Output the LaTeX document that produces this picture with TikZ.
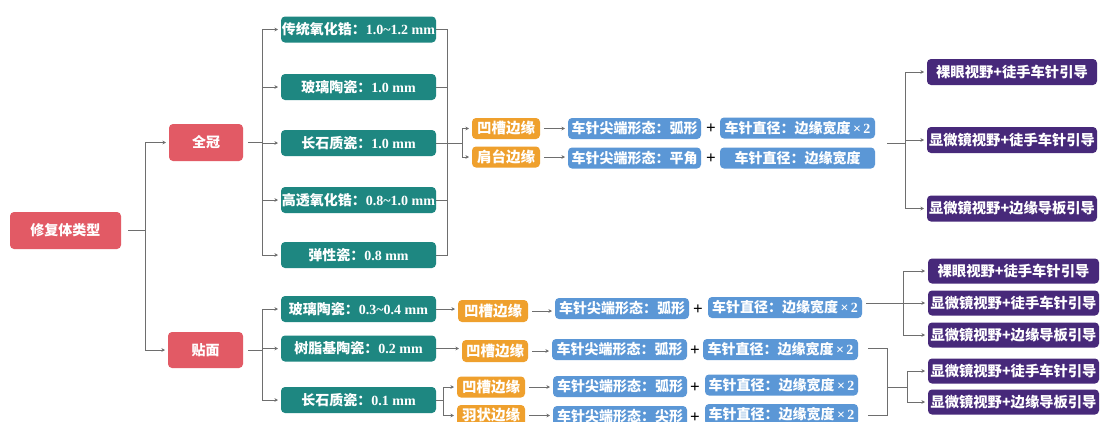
\documentclass[tikz,border=0pt]{standalone}
\usepackage{fontspec}
\setmainfont{Liberation Serif}
\newfontfamily\cjk{Noto Sans CJK SC}
\usetikzlibrary{arrows.meta}
\definecolor{cred}{HTML}{E25A65}
\definecolor{cteal}{HTML}{1E8781}
\definecolor{corange}{HTML}{EFA02D}
\definecolor{cblue}{HTML}{5B97D6}
\definecolor{cpurple}{HTML}{47297A}
\definecolor{cline}{HTML}{6E6E6E}
\newcommand{\C}[1]{{\cjk #1}}
\begin{document}
\begin{tikzpicture}[x=1pt,y=-1pt,
  box/.style={rounded corners=4pt, text=white, inner sep=0pt, outer sep=0pt, font=\bfseries\fontsize{14}{16}\selectfont},
  redbox/.style={box, fill=cred, minimum height=37pt},
  tealbox/.style={box, fill=cteal, minimum width=155pt, minimum height=26pt},
  orbox/.style={box, fill=corange, minimum width=68pt, minimum height=21pt, font=\bfseries\fontsize{14.5}{16}\selectfont},
  bluebox/.style={box, fill=cblue, minimum width=134pt, minimum height=21pt},
  bluewide/.style={box, fill=cblue, minimum width=155pt, minimum height=21pt},
  purbox/.style={box, fill=cpurple, minimum width=171pt, minimum height=26pt, font=\bfseries\fontsize{14.3}{16}\selectfont},
  plus/.style={inner sep=0pt, font=\bfseries\fontsize{17}{17}\selectfont},
  conn/.style={draw=cline, line width=0.8pt},
  arr/.style={conn, -{Stealth[length=3.5pt,width=3.5pt]}, shorten >=3pt}]
\useasboundingbox[fill=white] (0,0) rectangle (1101,421);
\clip (0,0) rectangle (1101,421);

% level 0/1
\node[redbox, minimum width=111pt] (root) at (65.5,230.5) {\C{修复体类型}};
\node[redbox, minimum width=74pt] (qg) at (206,142.5) {\C{全冠}};
\node[redbox, minimum width=75pt, minimum height=36pt] (tm) at (205.5,350) {\C{贴面}};

% full crown materials
\node[tealbox] (t1) at (358.5,29.5) {\C{传统氧化锆：}1.0\textasciitilde1.2 mm};
\node[tealbox] (t2) at (358.5,87) {\C{玻璃陶瓷：}1.0 mm};
\node[tealbox] (t3) at (358.5,143) {\C{长石质瓷：}1.0 mm};
\node[tealbox] (t4) at (358.5,200) {\C{高透氧化锆：}0.8\textasciitilde1.0 mm};
\node[tealbox] (t5) at (358.5,255) {\C{弹性瓷：}0.8 mm};

% veneer materials
\node[tealbox] (v1) at (358.5,309) {\C{玻璃陶瓷：}0.3\textasciitilde0.4 mm};
\node[tealbox] (v2) at (358.5,348.5) {\C{树脂基陶瓷：}0.2 mm};
\node[tealbox] (v3) at (358.5,400) {\C{长石质瓷：}0.1 mm};

% full crown margins
\node[orbox] (o1) at (506,128.5) {\C{凹槽边缘}};
\node[orbox] (o2) at (506,157) {\C{肩台边缘}};
\node[bluebox, minimum width=133pt] (b11) at (634.5,128.5) {\C{车针尖端形态：弧形}};
\node[bluebox, minimum width=133pt] (b21) at (634.5,158) {\C{车针尖端形态：平角}};
\node[plus] (p1) at (711,129) {+};
\node[plus] (p2) at (711,158.5) {+};
\node[bluewide] (b12) at (797.5,128) {\C{车针直径：边缘宽度}\,×\,2};
\node[bluewide] (b22) at (797.5,158) {\C{车针直径：边缘宽度}};

% purple top
\node[purbox, minimum width=170pt] (u1) at (1012,72) {\C{裸眼视野+徒手车针引导}};
\node[purbox, minimum width=170pt] (u2) at (1012,140) {\C{显微镜视野+徒手车针引导}};
\node[purbox, minimum width=170pt] (u3) at (1012,208.5) {\C{显微镜视野+边缘导板引导}};

% veneer rows
\node[orbox, minimum width=70pt, minimum height=22pt] (r1o) at (493,311) {\C{凹槽边缘}};
\node[bluebox] (r1b) at (622,308.5) {\C{车针尖端形态：弧形}};
\node[plus] (r1p) at (698,310) {+};
\node[bluewide, minimum width=154pt] (r1c) at (785,307.5) {\C{车针直径：边缘宽度}\,×\,2};

\node[orbox, minimum width=66pt, minimum height=22pt] (r2o) at (495,351) {\C{凹槽边缘}};
\node[bluebox, minimum width=135pt] (r2b) at (619.5,349.5) {\C{车针尖端形态：弧形}};
\node[plus] (r2p) at (695,351) {+};
\node[bluewide] (r2c) at (780.5,349.5) {\C{车针直径：边缘宽度}\,×\,2};

\node[orbox] (r3o) at (491,387) {\C{凹槽边缘}};
\node[bluebox] (r3b) at (620,386.5) {\C{车针尖端形态：弧形}};
\node[plus] (r3p) at (695,388) {+};
\node[bluewide, minimum width=153pt] (r3c) at (781.5,385) {\C{车针直径：边缘宽度}\,×\,2};

\node[orbox] (r4o) at (491,415.5) {\C{羽状边缘}};
\node[bluebox] (r4b) at (620,416.5) {\C{车针尖端形态：尖形}};
\node[plus] (r4p) at (695,418) {+};
\node[bluewide, minimum width=153pt] (r4c) at (781.5,414.5) {\C{车针直径：边缘宽度}\,×\,2};

% purple bottom
\node[purbox, minimum height=25pt] (w1) at (1013.5,271) {\C{裸眼视野+徒手车针引导}};
\node[purbox, minimum height=25pt] (w2) at (1013.5,303) {\C{显微镜视野+徒手车针引导}};
\node[purbox, minimum height=25pt] (w3) at (1013.5,335) {\C{显微镜视野+边缘导板引导}};
\node[purbox, minimum height=25pt] (w4) at (1013.5,371) {\C{显微镜视野+徒手车针引导}};
\node[purbox, minimum height=25pt] (w5) at (1013.5,402) {\C{显微镜视野+边缘导板引导}};

% ---- connectors ----
\draw[arr, shorten <=7pt] (root.east) -- ++(24,0) |- (qg.west);
\draw[arr, shorten <=7pt] (root.east) -- ++(24,0) |- (tm.west);

\foreach \t in {t1,t2,t3,t4,t5}
  \draw[arr, shorten <=5pt] (qg.east) -- ++(19,0) |- (\t.west);
\foreach \t in {v1,v2,v3}
  \draw[arr, shorten <=5pt] (tm.east) -- ++(19,0) |- (\t.west);

% right merge of full crown materials
\draw[conn] (t1.east) -- ++(11,0) |- (t5.east);
\draw[conn] (t2.east) -- ++(11,0);
\draw[conn] (t4.east) -- ++(11,0);
\draw[conn] (t3.east) -- ++(26,0) coordinate (j1);
\draw[arr] (j1) |- (o1.west);
\draw[arr] (j1) |- (o2.west);
\draw[arr, shorten <=4pt] (o1.east) -- (b11.west);
\draw[arr, shorten <=4pt] (o2.east) -- (o2.east -| b21.west);

\coordinate (m1) at (887,143);
\draw[conn] (m1) -- ++(18,0) coordinate (m1b);
\draw[arr] (m1b) |- (u1.west);
\draw[arr] (m1b) -- (m1b |- u2.west) -- (u2.west);
\draw[arr] (m1b) |- (u3.west);

% veneer connections
\draw[arr] (v1.east) -- (v1.east -| r1o.west);
\draw[arr] (v2.east) -- (v2.east -| r2o.west);
\draw[conn] (v3.east) -- ++(7,0) coordinate (j2);
\draw[arr] (j2) |- (r3o.west);
\draw[arr] (j2) |- (r4o.west);
\draw[arr, shorten <=4pt] (r1o.east) -- (r1o.east -| r1b.west);
\draw[arr, shorten <=4pt] (r2o.east) -- (r2o.east -| r2b.west);
\draw[arr, shorten <=4pt] (r3o.east) -- (r3o.east -| r3b.west);
\draw[arr, shorten <=4pt] (r4o.east) -- (r4o.east -| r4b.west);

\draw[conn, shorten <=4pt] (r1c.east |- w2.west) -- (903,303) coordinate (k1);
\draw[arr] (k1) |- (w1.west);
\draw[arr] (k1) -- (w2.west);
\draw[arr] (k1) |- (w3.west);

\coordinate (k2a) at (868,348);
\coordinate (k2b) at (868,415);
\draw[conn] (k2a) -- (887,348) -- (887,415) -- (k2b);
\draw[conn] (887,387) -- (907,387) coordinate (k3);
\draw[arr] (k3) |- (w4.west);
\draw[arr] (k3) |- (w5.west);
\end{tikzpicture}
\end{document}
